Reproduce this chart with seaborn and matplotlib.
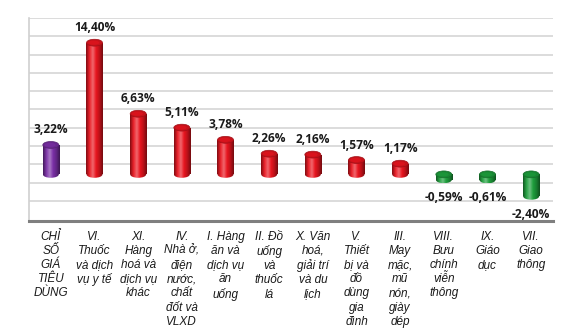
import numpy as np
import pandas as pd
import matplotlib
matplotlib.use("Agg")
import matplotlib.pyplot as plt
from matplotlib.patches import Ellipse
from matplotlib.colors import LinearSegmentedColormap, to_rgb
import seaborn as sns

categories = [
    "CHỈ\nSỐ\nGIÁ\nTIÊU\nDÙNG",
    "VI.\nThuốc\nvà dịch\nvụ y tế",
    "XI.\nHàng\nhoá và\ndịch vụ\nkhác",
    "IV.\nNhà ở,\nđiện\nnước,\nchất\nđốt và\nVLXD",
    "I. Hàng\năn và\ndịch vụ\năn\nuống",
    "II. Đồ\nuống\nvà\nthuốc\nlá",
    "X. Văn\nhoá,\ngiải trí\nvà du\nlịch",
    "V.\nThiết\nbị và\nđồ\ndùng\ngia\nđình",
    "III.\nMay\nmặc,\nmũ\nnón,\ngiày\ndép",
    "VIII.\nBưu\nchính\nviễn\nthông",
    "IX.\nGiáo\ndục",
    "VII.\nGiao\nthông",
]
values = [3.22, 14.40, 6.63, 5.11, 3.78, 2.26, 2.16, 1.57, 1.17, -0.59, -0.61, -2.40]
value_labels = ["3,22%", "14,40%", "6,63%", "5,11%", "3,78%", "2,26%", "2,16%",
                "1,57%", "1,17%", "-0,59%", "-0,61%", "-2,40%"]

PURPLE, RED, GREEN = "#7A2FA6", "#E8151F", "#1E9E3C"
colors = [PURPLE] + [RED] * 8 + [GREEN] * 3

sns.set_theme(style="white")
plt.rcParams["font.family"] = ["Liberation Sans", "DejaVu Sans"]

fig = plt.figure(figsize=(5.85, 3.3), dpi=100)
ax = fig.add_axes([29 / 585, 1 - 221 / 330, 524 / 585, 203 / 330])

df = pd.DataFrame({"cat": categories, "val": values})
sns.barplot(data=df, x="cat", y="val", hue="cat", palette=colors, width=0.367,
            legend=False, ax=ax, saturation=1, linewidth=0, zorder=3)

YMIN, YMAX = -5.1, 17.1
ax.set_ylim(YMIN, YMAX)
ax.set_xlim(-0.5, len(categories) - 0.5)

# back-wall gridlines
for k in range(11):
    ax.axhline(YMAX - 2 * k, color="#D9D9D9", lw=1.3, zorder=1)

cap_h = 0.75  # ellipse height in data units


def shade(c, f):
    r = np.array(to_rgb(c))
    if f < 0:
        return tuple(r * (1 + f))
    return tuple(r + (1 - r) * f)


for patch, c in zip(list(ax.patches), colors):
    x0, w = patch.get_x(), patch.get_width()
    y0, h = patch.get_y(), patch.get_height()
    bot, top = min(y0, y0 + h), max(y0, y0 + h)
    xc = x0 + w / 2
    cmap = LinearSegmentedColormap.from_list(
        "cyl", [shade(c, -0.45), shade(c, 0.05), shade(c, 0.35), c, shade(c, -0.2), shade(c, -0.5)])
    grad = np.linspace(0, 1, 64)[None, :]
    patch.set_facecolor("none")
    e_bot = Ellipse((xc, bot), w, cap_h, facecolor="none", edgecolor="none", zorder=3)
    ax.add_patch(e_bot)
    im1 = ax.imshow(grad, extent=[x0, x0 + w, bot - cap_h / 2, bot], aspect="auto",
                    cmap=cmap, zorder=3, interpolation="bilinear")
    im1.set_clip_path(e_bot)
    im2 = ax.imshow(grad, extent=[x0, x0 + w, bot, top], aspect="auto",
                    cmap=cmap, zorder=3.1, interpolation="bilinear")
    im2.set_clip_path(patch)
    ax.add_patch(Ellipse((xc, top), w, cap_h, facecolor=shade(c, -0.15),
                         edgecolor=shade(c, -0.3), lw=0.5, zorder=4))
    ax.add_patch(Ellipse((xc - w * 0.05, top), w * 0.7, cap_h * 0.6,
                         facecolor=shade(c, 0.0), edgecolor="none", zorder=4.1, alpha=0.6))

ax.set_ylim(YMIN, YMAX)
ax.set_xlim(-0.5, len(categories) - 0.5)

for i, (v, lab) in enumerate(zip(values, value_labels)):
    off = 15 if v >= 0 else -18
    ax.annotate(lab, (i, v), xytext=(0, off * 0.72), textcoords="offset points",
                ha="center", va="center", fontsize=8.6, fontweight="bold",
                family=["Open Sans", "DejaVu Sans"], color="#1A1A1A", zorder=6)

ax.set_yticks([])
ax.set_ylabel("")
ax.set_xlabel("")
ax.set_xticks(range(len(categories)))
ax.set_xticklabels(categories, fontsize=8.5, style="italic", color="#1A1A1A",
                   linespacing=1.24, ha="center", va="top")
ax.tick_params(axis="x", length=0, pad=7)

for s in ["top", "right"]:
    ax.spines[s].set_visible(False)
ax.spines["bottom"].set_color("#7F7F7F")
ax.spines["bottom"].set_linewidth(2.2)
ax.spines["left"].set_color("#D0D0D0")
ax.spines["left"].set_linewidth(1.2)

fig.savefig("out.png", dpi=100, facecolor="white")
